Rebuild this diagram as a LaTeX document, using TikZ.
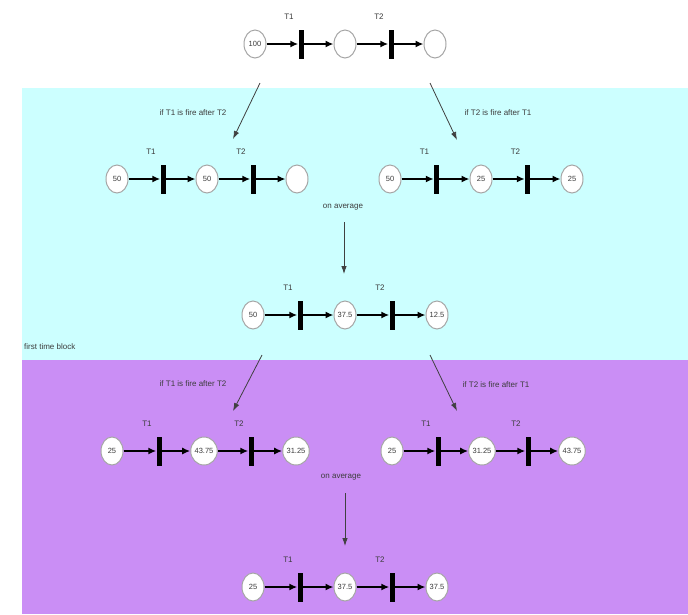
\documentclass[tikz,border=0pt]{standalone}
\usepackage{fontspec}
\setmainfont{Liberation Sans}
\usetikzlibrary{shapes.geometric,arrows.meta}
\definecolor{bgcyan}{RGB}{204,255,255}
\definecolor{bgpurple}{RGB}{202,142,245}
\definecolor{txtgray}{RGB}{60,60,60}
\tikzset{
  place/.style={ellipse, draw=gray!70, line width=1pt, fill=white, minimum width=22pt, minimum height=28pt, inner sep=0pt, font=\fontsize{7.5}{9}\selectfont, text=txtgray},
  bar/.style={fill=black, draw=none, minimum width=5pt, minimum height=29pt, inner sep=0pt},
  arc/.style={-{Latex[length=8pt,width=7pt]}, line width=1.7pt},
  lbl/.style={font=\fontsize{8}{9.5}\selectfont, text=txtgray, inner sep=0pt},
  flow/.style={-{Latex[length=8pt,width=5.5pt]}, line width=0.8pt, draw=black!75},
}
% net: prefix, x, y, spacing, a, b, c
\newcommand\mynet[7]{%
  \node[place] (#1p1) at (#2,#3) {#5};
  \node[place] (#1p2) at ({#2+#4},#3) {#6};
  \node[place] (#1p3) at ({#2+2*#4},#3) {#7};
  \node[bar] (#1t1) at ({#2+#4/2+1},#3) {};
  \node[bar] (#1t2) at ({#2+1.5*#4+1},#3) {};
  \node[lbl] (#1l1) at ({#2+#4/2-11},{#3-27}) {T1};
  \node[lbl] (#1l2) at ({#2+1.5*#4-11},{#3-27}) {T2};
  \draw[arc] (#1p1) -- (#1t1);
  \draw[arc] (#1t1) -- (#1p2);
  \draw[arc] (#1p2) -- (#1t2);
  \draw[arc] (#1t2) -- (#1p3);
}
\begin{document}
\begin{tikzpicture}[x=1pt,y=-1pt]
\useasboundingbox (0,0) rectangle (688,614);
\fill[white] (0,0) rectangle (688,614);
\fill[bgcyan] (22,88) rectangle (688,360);
\fill[bgpurple] (22,360) rectangle (688,614);

\mynet{a}{255}{44}{90}{100}{}{}
\mynet{b}{117}{179}{90}{50}{50}{}
\mynet{c}{390}{179}{91}{50}{25}{25}
\mynet{d}{253}{315}{92}{50}{37.5}{12.5}
\mynet{e}{112}{451}{92}{25}{43.75}{31.25}
\mynet{f}{392}{451}{90}{25}{31.25}{43.75}
\mynet{g}{253}{587}{92}{25}{37.5}{37.5}

\node[lbl] (q1) at (193,113) {if T1 is fire after T2};
\node[lbl] (q2) at (498,113) {if T2 is fire after T1};
\node[lbl] (q3) at (343,207) {on average};
\node[lbl] (q4) at (193,384) {if T1 is fire after T2};
\node[lbl] (q5) at (496,385) {if T2 is fire after T1};
\node[lbl] (q6) at (341,477) {on average};
\node[lbl, anchor=west] (q7) at (24,347) {first time block};

\coordinate (s1) at (260,83);  \coordinate (e1) at (233,139);
\coordinate (s2) at (430,83);  \coordinate (e2) at (457,140);
\coordinate (s3) at (344,222); \coordinate (e3) at (344,274);
\coordinate (s4) at (262,355); \coordinate (e4) at (233,411);
\coordinate (s5) at (430,355); \coordinate (e5) at (457,411);
\coordinate (s6) at (345,493); \coordinate (e6) at (345,546);
\draw[flow] (s1) -- (e1);
\draw[flow] (s2) -- (e2);
\draw[flow] (s3) -- (e3);
\draw[flow] (s4) -- (e4);
\draw[flow] (s5) -- (e5);
\draw[flow] (s6) -- (e6);
\end{tikzpicture}
\end{document}
